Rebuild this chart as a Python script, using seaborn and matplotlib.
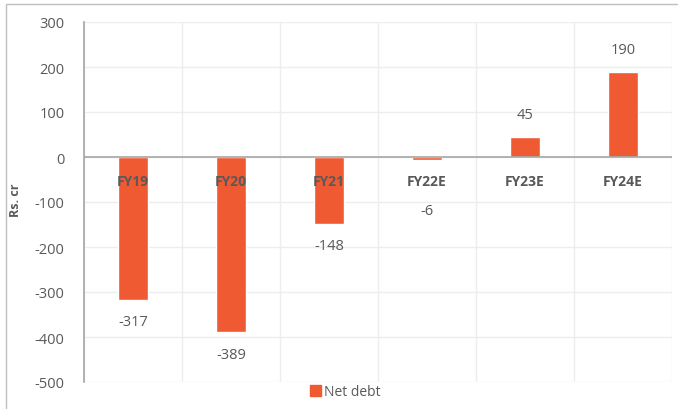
import matplotlib
matplotlib.use("Agg")
import matplotlib.pyplot as plt
import matplotlib.patches as mpatches
import seaborn as sns
import pandas as pd

categories = ["FY19", "FY20", "FY21", "FY22E", "FY23E", "FY24E"]
net_debt = [-317, -389, -148, -6, 45, 190]
yticks = [300, 200, 100, 0, -100, -200, -300, -400, -500]
series_name = "Net debt"
ylabel = "Rs. cr"

bar_color = "#F05A32"
text_color = "#595959"

sns.set_theme(style="white")
plt.rcParams['font.family'] = ['Open Sans', 'DejaVu Sans']

df = pd.DataFrame({"cat": categories, "val": net_debt})

fig = plt.figure(figsize=(6.78, 4.10), dpi=100)
ax = fig.add_axes([84/678, 1-383/410, (672-84)/678, (383-23)/410])

sns.barplot(data=df, x="cat", y="val", color=bar_color, width=0.3,
            saturation=1, ax=ax, zorder=3)

ax.set_ylim(-500, 300)
ax.set_xlim(-0.5, len(categories)-0.5)
ax.set_yticks(yticks)
ax.set_yticklabels([str(t) for t in yticks], fontsize=10.5, color=text_color)
ax.tick_params(axis='y', length=0, pad=14)
ax.set_xticks([])
ax.set_xlabel("")
ax.set_ylabel(ylabel, fontsize=9, fontweight='bold', color=text_color)
ax.yaxis.set_label_coords((22-84)/588, (383-200)/360)

# gridlines
for t in yticks:
    ax.axhline(t, color="#EDEDED", lw=1, zorder=0)
for b in range(len(categories)+1):
    ax.axvline(b-0.5, color="#EDEDED", lw=1, zorder=0)
ax.axhline(0, color="#A6A6A6", lw=1.2, zorder=4)

for s in ["top", "right", "bottom"]:
    ax.spines[s].set_visible(False)
ax.spines["left"].set_color("#A6A6A6")
ax.spines["left"].set_linewidth(1.2)

# category labels below zero line
for i, c in enumerate(categories):
    ax.annotate(c, (i, 0), xytext=(0, -17), textcoords="offset points",
                ha="center", va="center", fontsize=10, fontweight='bold',
                color=text_color, zorder=5)

# value labels
for i, v in enumerate(net_debt):
    if v >= 0:
        ax.annotate(str(v), (i, v), xytext=(0, 16), textcoords="offset points",
                    ha="center", va="center", fontsize=10.5, color=text_color)
    else:
        ax.annotate(str(v), (i, min(v, -70)), xytext=(0, -16), textcoords="offset points",
                    ha="center", va="center", fontsize=10.5, color=text_color)

# legend
handle = mpatches.Patch(color=bar_color, label=series_name)
fig.legend(handles=[handle], loc="center", bbox_to_anchor=(345/678, 1-393/410),
           frameon=False, fontsize=10, handlelength=0.8, handleheight=0.8,
           handletextpad=0.2, labelcolor=text_color)

# outer border
border = mpatches.Rectangle((6/678, -0.1), 1.0, 1-5/410+0.1, transform=fig.transFigure,
                            fill=False, edgecolor="#BFBFBF", lw=1)
fig.patches.append(border)

fig.savefig("out.png", dpi=100)
